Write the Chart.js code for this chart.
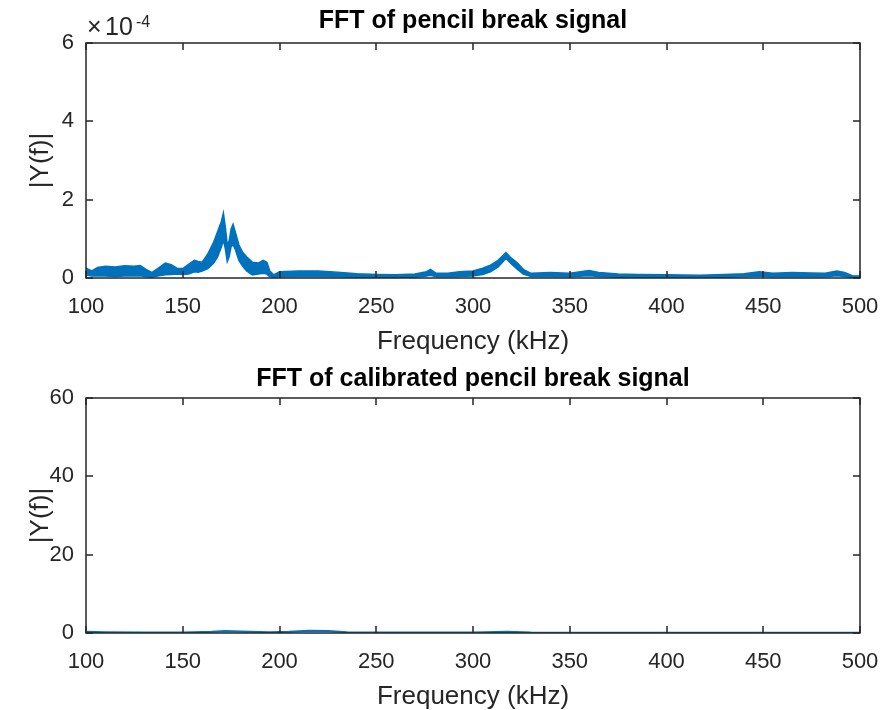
<!DOCTYPE html>
<html>
<head>
<meta charset="utf-8">
<script src="https://cdn.jsdelivr.net/npm/chart.js@4.4.1/dist/chart.umd.min.js"></script>
<style>
  html, body { margin:0; padding:0; background:#fff; }
  .panel { position:relative; width:881px; height:355px; }
</style>
</head>
<body>
<div class="panel"><canvas id="fftRaw"></canvas></div>
<div class="panel"><canvas id="fftCal"></canvas></div>
<script>
// ---- data (top: |Y(f)| in units of 1e-4, drawn as an upper/lower band) ----
const freqRaw = [100,103,106,110,115,120,125,128,131,134,137,141,144,147,150,153,156,158,160,163,166,168,170,171,172,173,174,175,176,177,179,181,183,186,189,191.5,193.5,195,197,200,210,220,230,240,250,260,270,276,278,281,287,293,300,305,309,313,317,320,323,326,330,340,350,360,365,375,385,400,417,430,440,448,455,465,475,482,488,492,496,500];
const rawHigh = [0.25,0.18,0.27,0.30,0.28,0.31,0.30,0.32,0.22,0.14,0.24,0.38,0.34,0.25,0.24,0.35,0.45,0.42,0.40,0.62,0.92,1.18,1.45,1.66,1.30,0.85,0.95,1.25,1.37,1.20,0.85,0.65,0.54,0.40,0.38,0.45,0.40,0.18,0.08,0.16,0.18,0.18,0.15,0.11,0.09,0.08,0.10,0.16,0.22,0.12,0.12,0.16,0.18,0.25,0.33,0.45,0.65,0.50,0.38,0.22,0.12,0.14,0.12,0.19,0.14,0.10,0.09,0.08,0.07,0.09,0.11,0.16,0.12,0.14,0.13,0.12,0.18,0.14,0.06,0.05];
const rawLow  = [0.08,0.05,0.06,0.05,0.04,0.05,0.05,0.06,0.03,0.02,0.05,0.08,0.09,0.10,0.09,0.10,0.16,0.15,0.18,0.24,0.38,0.54,0.80,0.97,0.75,0.42,0.55,0.80,0.85,0.75,0.45,0.30,0.18,0.08,0.10,0.12,0.10,0.03,0.02,0.03,0.04,0.04,0.03,0.02,0.02,0.01,0.02,0.05,0.07,0.03,0.03,0.04,0.05,0.09,0.16,0.28,0.50,0.35,0.22,0.10,0.04,0.04,0.03,0.06,0.04,0.02,0.02,0.01,0.01,0.02,0.03,0.05,0.03,0.04,0.03,0.03,0.06,0.04,0.01,0.01];

// ---- data (bottom: calibrated |Y(f)|) ----
const freqCal = [100,110,130,150,165,172,180,195,205,215,225,235,250,280,300,318,330,360,400,450,500];
const calVals = [0.3,0.2,0.1,0.1,0.3,0.5,0.4,0.2,0.3,0.6,0.5,0.2,0.1,0.1,0.1,0.3,0.1,0.05,0.05,0.05,0.05];

const freqTicks = [100,150,200,250,300,350,400,450,500];

const LINE = '#0072BD';
const INK = '#262626';
const FONT = '"Liberation Sans", Arial, Helvetica, sans-serif';

const pts = (xs, ys) => xs.map((x, i) => ({ x, y: ys[i] }));

// MATLAB-style box with inward ticks on all four sides
const matlabBox = {
  id: 'matlabBox',
  afterDatasetsDraw(chart, args, opts) {
    const { ctx, chartArea: a, scales } = chart;
    const tl = 7;
    ctx.save();
    ctx.strokeStyle = INK;
    ctx.lineWidth = 1.5;
    ctx.beginPath();
    scales.x.ticks.forEach(t => {
      const px = Math.round(scales.x.getPixelForValue(t.value));
      ctx.moveTo(px, a.bottom); ctx.lineTo(px, a.bottom - tl);
      ctx.moveTo(px, a.top); ctx.lineTo(px, a.top + tl);
    });
    scales.y.ticks.forEach(t => {
      const py = Math.round(scales.y.getPixelForValue(t.value));
      ctx.moveTo(a.left, py); ctx.lineTo(a.left + tl, py);
      ctx.moveTo(a.right, py); ctx.lineTo(a.right - tl, py);
    });
    ctx.stroke();
    ctx.strokeRect(a.left, a.top, a.right - a.left, a.bottom - a.top);
    if (opts.exponent) {
      ctx.fillStyle = INK;
      ctx.textBaseline = 'alphabetic';
      ctx.font = '25px ' + FONT;
      ctx.fillText('\u00d7', a.left + 1, a.top - 8);
      ctx.fillText('10', a.left + 19, a.top - 8);
      ctx.font = '16px ' + FONT;
      ctx.fillText(opts.exponent, a.left + 50, a.top - 16);
    }
    ctx.restore();
  }
};

function makeChart(id, title, datasets, yMax, yStep, exponent, titlePad) {
  return new Chart(document.getElementById(id), {
    type: 'line',
    data: { datasets },
    options: {
      responsive: true, maintainAspectRatio: false, animation: false,
      layout: { padding: { left: 0, right: 21, top: 0, bottom: 0 } },
      plugins: { legend: { display: false }, tooltip: { enabled: false }, matlabBox: { exponent } },
      elements: { point: { radius: 0 }, line: { tension: 0 } },
      scales: {
        x: {
          type: 'linear', min: 100, max: 500,
          afterBuildTicks: s => { s.ticks = freqTicks.map(v => ({ value: v })); },
          grid: { display: false, drawTicks: false }, border: { display: false },
          ticks: { color: INK, padding: 16, font: { family: FONT, size: 22 }, maxRotation: 0 },
          title: { display: true, text: 'Frequency (kHz)', color: INK, padding: { top: 0, bottom: -2 }, font: { family: FONT, size: 26 } },
          afterFit: s => { s.height = 77; s.paddingLeft = 0; s.paddingRight = 0; }
        },
        xt: {
          type: 'linear', position: 'top', min: 100, max: 500,
          grid: { display: false, drawTicks: false }, border: { display: false },
          ticks: { display: false },
          title: { display: true, text: title, color: '#000', padding: { top: titlePad, bottom: 0 }, font: { family: FONT, size: 25, weight: 'bold' } },
          afterFit: s => { s.height = 43; s.paddingLeft = 0; s.paddingRight = 0; }
        },
        y: {
          min: 0, max: yMax,
          ticks: { stepSize: yStep, color: INK, padding: 12, font: { family: FONT, size: 22 } },
          grid: { display: false, drawTicks: false }, border: { display: false },
          title: { display: true, text: '|Y(f)|', color: INK, padding: { top: 25, bottom: 0 }, font: { family: FONT, size: 26 } },
          afterFit: s => { s.width = 86; }
        }
      }
    },
    plugins: [matlabBox]
  });
}

makeChart('fftRaw', 'FFT of pencil break signal', [
  { data: pts(freqRaw, rawHigh), borderColor: LINE, backgroundColor: LINE, borderWidth: 1.5, fill: '+1' },
  { data: pts(freqRaw, rawLow), borderColor: LINE, backgroundColor: LINE, borderWidth: 1.5, fill: false }
], 6, 2, '-4', 6.5);

makeChart('fftCal', 'FFT of calibrated pencil break signal', [
  { data: pts(freqCal, calVals), borderColor: LINE, borderWidth: 2, fill: false }
], 60, 20, null, 9);
</script>
</body>
</html>
